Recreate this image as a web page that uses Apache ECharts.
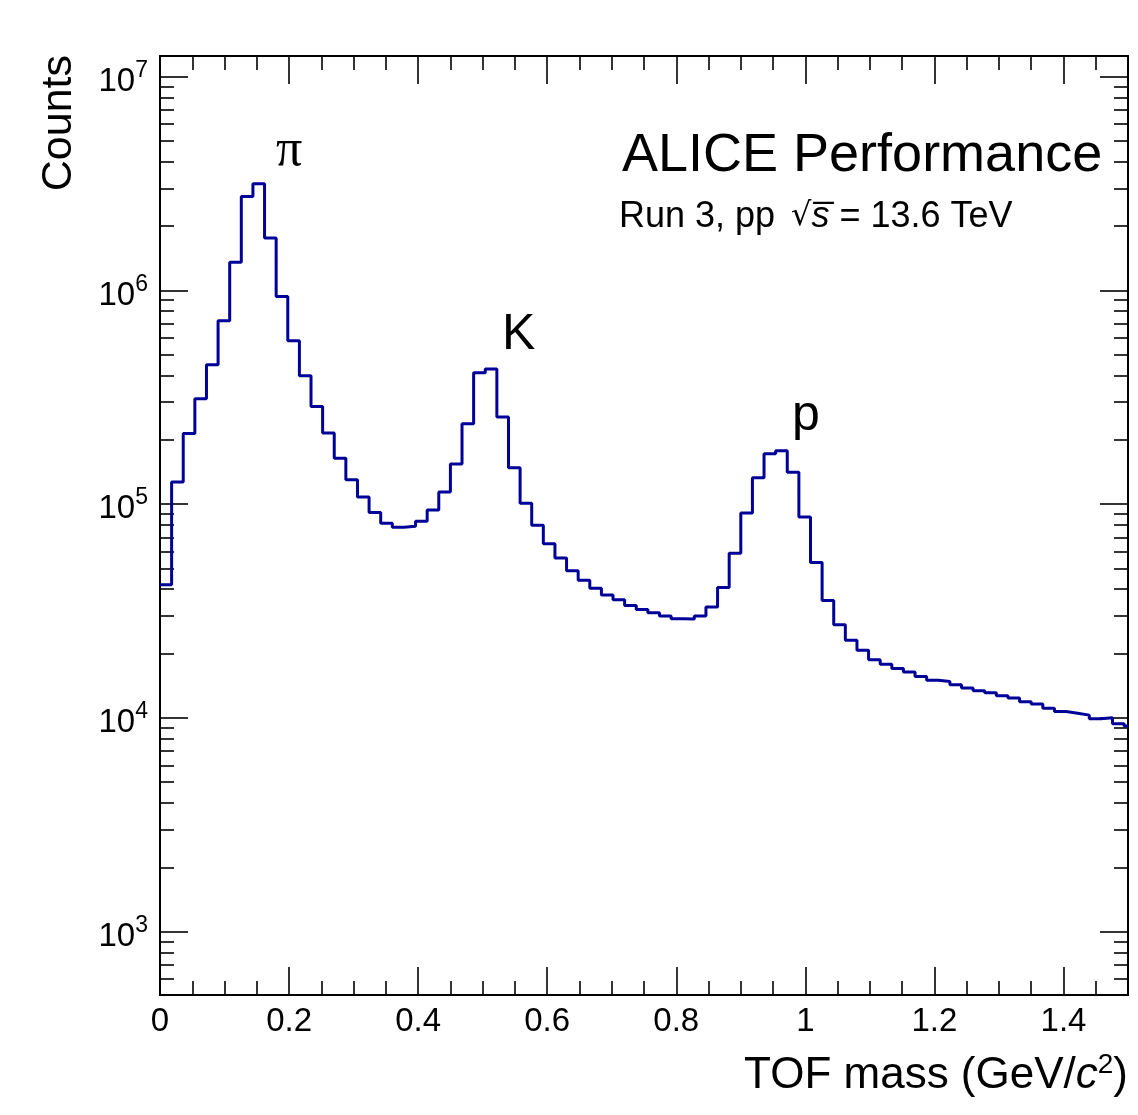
<!DOCTYPE html>
<html><head><meta charset="utf-8">
<script src="https://cdn.jsdelivr.net/npm/echarts@6/dist/echarts.min.js"></script>
<style>html,body{margin:0;padding:0;background:#fff}#c{width:1138px;height:1115px}</style>
</head><body><div id="c"></div>
<script>
// ---- data ----
const binWidth = 0.018;          // GeV/c^2 per bin
const counts = [
  42000, 127000, 214000, 311000, 449000, 722000, 1355000, 2750000, 3160000, 1760000,
  936000, 581000, 399000, 286000, 215000, 164000, 130000, 108000, 91300, 81300,
  78000, 78800, 83100, 94000, 114000, 154000, 238000, 412000, 429000, 256000,
  148000, 101000, 79600, 65300, 56000, 48800, 44000, 40400, 37600, 35700,
  33600, 32100, 31000, 30000, 29100, 29000, 30000, 33000, 40700, 58900,
  91000, 133000, 172000, 178000, 141000, 87100, 53400, 35400, 27300, 23100,
  20700, 18700, 17800, 17000, 16400, 15600, 15000, 14800, 14300, 13800,
  13400, 13100, 12700, 12400, 11900, 11600, 11100, 10700, 10500, 10300,
  9900, 10000, 9380, 9150
];
const xMajorTicks = [0, 0.2, 0.4, 0.6, 0.8, 1, 1.2, 1.4];
const yMajorTicks = [1e3, 1e4, 1e5, 1e6, 1e7];
const xRange = [0, 1.5];
const yRange = [505, 1.25e7];
const peakLabels = ['π', 'K', 'p'];
const xTitle = ['TOF mass (GeV/', 'c', '2', ')'];
const yTitle = 'Counts';
const headerTitle = 'ALICE Performance';
const headerSub = ['Run 3, pp ', '√', 's\u0305', ' = 13.6 TeV'];

// ---- derived ----
const histPoints = counts.map((v, i) => [+(i * binWidth).toFixed(4), v]);
histPoints.push([xRange[1], counts[counts.length - 1]]);

const xMinorTicks = [];
for (let k = 1; k * 0.05 < xRange[1] - 1e-9; k++) {
  const v = +(k * 0.05).toFixed(3);
  if (Math.abs(v / 0.2 - Math.round(v / 0.2)) > 1e-6) xMinorTicks.push(v);
}
const yMinorTicks = [];
for (let e = 2; e <= 7; e++) {
  for (let m = 2; m <= 9; m++) {
    const v = m * Math.pow(10, e);
    if (v >= yRange[0] && v <= yRange[1]) yMinorTicks.push(v);
  }
}

const FONT = 'Liberation Sans, Arial, Helvetica, sans-serif';
const black = '#000';

function xAxisDef(pos, major, withLabels) {
  return {
    type: 'value', position: pos, min: xRange[0], max: xRange[1],
    axisLine: { show: true, onZero: false, lineStyle: { color: black, width: 2 } },
    axisTick: { show: true, inside: true, length: major ? 28 : 14,
      customValues: major ? xMajorTicks : xMinorTicks,
      lineStyle: { color: black, width: 1.6 } },
    axisLabel: { show: withLabels, customValues: xMajorTicks, margin: 10,
      fontFamily: FONT, fontSize: 33, color: black,
      formatter: v => String(+v.toFixed(2)) },
    splitLine: { show: false }
  };
}
function yAxisDef(pos, major, withLabels) {
  return {
    type: 'log', logBase: 10, position: pos, min: yRange[0], max: yRange[1],
    axisLine: { show: true, onZero: false, lineStyle: { color: black, width: 2 } },
    axisTick: { show: true, inside: true, length: major ? 28 : 14,
      customValues: major ? yMajorTicks : yMinorTicks,
      lineStyle: { color: black, width: 1.6 } },
    axisLabel: { show: withLabels, customValues: yMajorTicks, margin: 12,
      formatter: v => '{b|10}{s|' + Math.round(Math.log10(v)) + '}',
      rich: {
        b: { fontFamily: FONT, fontSize: 33, color: black, padding: [10, 0, 0, 0] },
        s: { fontFamily: FONT, fontSize: 23, color: black, padding: [0, 0, 12, 0] }
      } },
    splitLine: { show: false }
  };
}

const chart = echarts.init(document.getElementById('c'), null, { renderer: 'canvas' });
chart.setOption({
  animation: false,
  backgroundColor: '#fff',
  grid: { left: 160, right: 10, top: 56, bottom: 120, containLabel: false },
  xAxis: [
    xAxisDef('bottom', true, true),
    xAxisDef('bottom', false, false),
    xAxisDef('top', true, false),
    xAxisDef('top', false, false)
  ],
  yAxis: [
    yAxisDef('left', true, true),
    yAxisDef('left', false, false),
    yAxisDef('right', true, false),
    yAxisDef('right', false, false)
  ],
  series: [{
    type: 'line', step: 'end', symbol: 'none', xAxisIndex: 0, yAxisIndex: 0,
    data: histPoints, clip: true,
    lineStyle: { color: '#000099', width: 3 }
  }],
  graphic: [
    { type: 'text', x: 59, y: 55, rotation: Math.PI / 2,
      style: { text: yTitle, fontFamily: FONT, fontSize: 43, fill: black,
               textAlign: 'right', textVerticalAlign: 'middle' } },
    { type: 'text', x: 1128, y: 1076,
      style: { text: '{a|' + xTitle[0] + '}{i|' + xTitle[1] + '}{s|' + xTitle[2] + '}{a|' + xTitle[3] + '}',
               textAlign: 'right', textVerticalAlign: 'middle',
               rich: {
                 a: { fontFamily: FONT, fontSize: 44, color: black },
                 i: { fontFamily: FONT, fontSize: 44, fontStyle: 'italic', color: black },
                 s: { fontFamily: FONT, fontSize: 28, color: black, padding: [0, 0, 22, 0] }
               } } },
    { type: 'text', x: 622, y: 156,
      style: { text: headerTitle, fontFamily: FONT, fontSize: 54, fill: black,
               textAlign: 'left', textVerticalAlign: 'middle' } },
    { type: 'text', x: 619, y: 217,
      style: { text: '{a|' + headerSub[0] + '}{r|' + headerSub[1] + '}{i|' + headerSub[2] + '}{a|' + headerSub[3] + '}',
               textAlign: 'left', textVerticalAlign: 'middle',
               rich: {
                 a: { fontFamily: FONT, fontSize: 36, color: black },
                 r: { fontFamily: 'DejaVu Sans, sans-serif', fontSize: 32, color: black, padding: [0, 0, 0, 6] },
                 i: { fontFamily: FONT, fontSize: 36, fontStyle: 'italic', color: black }
               } } },
    { type: 'text', x: 276, y: 151,
      style: { text: peakLabels[0], fontFamily: 'Liberation Serif, Times New Roman, serif', fontSize: 52, fill: black,
               textAlign: 'left', textVerticalAlign: 'middle' } },
    { type: 'text', x: 502, y: 335,
      style: { text: peakLabels[1], fontFamily: FONT, fontSize: 50, fill: black,
               textAlign: 'left', textVerticalAlign: 'middle' } },
    { type: 'text', x: 792, y: 416,
      style: { text: peakLabels[2], fontFamily: FONT, fontSize: 50, fill: black,
               textAlign: 'left', textVerticalAlign: 'middle' } }
  ]
});
</script>
</body></html>
